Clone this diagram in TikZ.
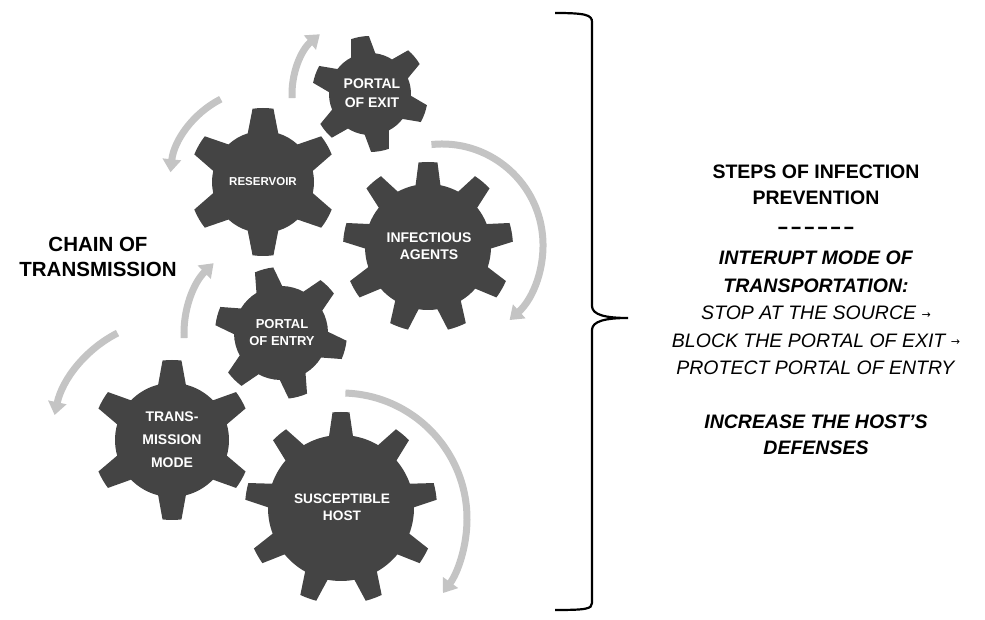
\documentclass[tikz,border=0pt]{standalone}
\usepackage{fontspec}
\usepackage{graphicx}
\setmainfont{Liberation Sans}
\newfontfamily\symbolfont{DejaVu Sans}
\usetikzlibrary{arrows.meta}

\definecolor{cogdark}{RGB}{68,68,68}
\definecolor{turngray}{RGB}{196,196,196}

\newcommand\fs[2]{\fontsize{#1}{#2}\selectfont}
\newcommand\smallarrow{\raisebox{1.5pt}{\symbolfont\fs{11}{11}→}}
\newcommand\dashbit{\scalebox{1.8}[1]{-}}
\newcommand\dashrow{\dashbit\kern1.5pt\dashbit\kern1.5pt\dashbit\kern1.5pt\dashbit\kern1.5pt\dashbit\kern1.5pt\dashbit}
% #1 centre, #2 teeth, #3 body radius, #4 tip radius,
% #5 half width at base, #6 half width at tip, #7 angle of first tooth
\newcommand\cog[7]{%
  \pgfmathsetmacro\cogstep{360/#2}%
  \pgfmathsetmacro\cogbase{deg(#5/#3)}%
  \pgfmathsetmacro\cogtip{deg(#6/#4)}%
  \fill[cog, shift={#1}] ({#7-\cogbase}:#3)
    \foreach \k in {1,...,#2}{
      -- ({#7+(\k-1)*\cogstep-\cogtip}:#4)
      arc[start angle={#7+(\k-1)*\cogstep-\cogtip}, delta angle={2*\cogtip}, radius=#4]
      -- ({#7+(\k-1)*\cogstep+\cogbase}:#3)
      arc[start angle={#7+(\k-1)*\cogstep+\cogbase}, delta angle={\cogstep-2*\cogbase}, radius=#3]
    } -- cycle;
}

\begin{document}
\begin{tikzpicture}
[ x=1pt, y=1pt
, cog/.style={fill=cogdark}
, cogtext/.style={text=white, align=center, inner sep=0pt}
, turn/.style={draw=turngray, line width=7pt, -{Triangle[width=18pt, length=13pt]}}
, heading/.style={align=center, inner sep=0pt, font=\bfseries\fs{19.5}{26}}
, plan/.style={align=center, inner sep=0pt, font=\fs{19.5}{27.5}}
]
\useasboundingbox[fill=white] (0,0) rectangle (985,620);

% Gear centres:
\coordinate (exit) at (370,526);
\coordinate (reservoir) at (263,438);
\coordinate (agents) at (428,373);
\coordinate (entry) at (281,287);
\coordinate (mode) at (172,180);
\coordinate (host) at (341,112);
\coordinate (agentsturn) at (442,375);
\coordinate (hostturn) at (341,101);

% Gears:
\cog{(exit)}{6}{41}{58}{12.5}{9}{100}
\cog{(reservoir)}{6}{51}{74}{15.5}{10.5}{90}
\cog{(agents)}{9}{63}{85}{12.5}{9.5}{90}
\cog{(entry)}{6}{47}{66}{13.5}{9.5}{105}
\cog{(mode)}{6}{57}{80}{14}{9.5}{90}
\cog{(host)}{9}{73}{96}{12}{8.5}{90}

% Turning arrows:
\draw[turn] ([shift={(183:78)}]exit) arc[start angle=183, end angle=130, radius=78];
\draw[turn] ([shift={(117:93)}]reservoir) arc[start angle=117, end angle=174, radius=93];
\draw[turn] ([shift={(96:101)}]agentsturn) arc[start angle=96, end angle=-48, radius=101];
\draw[turn] ([shift={(183:97)}]entry) arc[start angle=183, end angle=134, radius=97];
\draw[turn] ([shift={(117:120)}]mode) arc[start angle=117, end angle=168, radius=120];
\draw[turn] ([shift={(88:126)}]hostturn) arc[start angle=88, end angle=-36, radius=126];

% Gear labels:
\node[cogtext, font=\bfseries\fs{14}{19.5}] (exitname) at (372,527) {PORTAL\\OF EXIT};
\node[cogtext, font=\bfseries\fs{11.5}{14}] (reservoirname) at (263,438) {RESERVOIR};
\node[cogtext, font=\bfseries\fs{14}{16.7}] (agentsname) at (429,373.5) {INFECTIOUS\\AGENTS};
\node[cogtext, font=\bfseries\fs{13}{16.7}] (entryname) at (282,287.5) {PORTAL\\OF ENTRY};
\node[cogtext, font=\bfseries\fs{14}{23}] (modename) at (172,180) {TRANS-\\MISSION\\MODE};
\node[cogtext, font=\bfseries\fs{13.7}{16.7}] (hostname) at (342,112.5) {SUSCEPTIBLE\\HOST};

\node[heading, font=\bfseries\fs{20.5}{25}] (chain) at (98,363) {CHAIN OF\\TRANSMISSION};

% Brace:
\draw[line width=2.2pt] (555,607) .. controls (586,607) and (592,605) .. (592,598)
  -- (592,314) .. controls (592,305) and (606,302) .. (628,302)
  .. controls (606,302) and (592,299) .. (592,290)
  -- (592,17) .. controls (592,11) and (586,10) .. (555,10);

% Prevention steps:
\node[heading] (steps) at (816,435) {STEPS OF INFECTION\\PREVENTION};
\node[heading] (dashes) at (816,390) {\dashrow};
\node[plan] (interrupt) at (816,307)
  {\textbf{\textit{INTERUPT MODE OF}}\\
   \textbf{\textit{TRANSPORTATION:}}\\
   \textit{STOP AT THE SOURCE \smallarrow}\\
   \textit{BLOCK THE PORTAL OF EXIT \smallarrow}\\
   \textit{PROTECT PORTAL OF ENTRY}};
\node[heading, font=\bfseries\itshape\fs{19.5}{26}] (defenses) at (816,185) {INCREASE THE HOST’S\\DEFENSES};
\end{tikzpicture}
\end{document}
